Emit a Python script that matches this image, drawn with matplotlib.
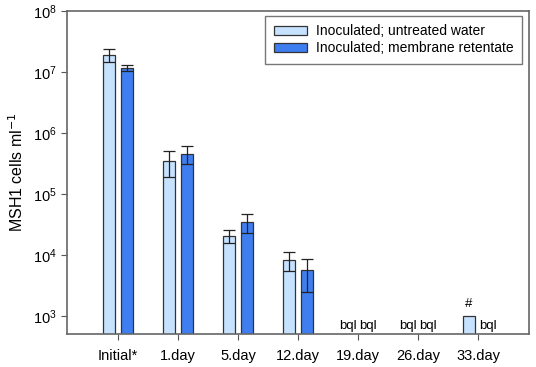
import matplotlib
matplotlib.use("Agg")
import matplotlib.pyplot as plt
import matplotlib.transforms as mtransforms
import numpy as np

plt.rcParams['font.family'] = ['Liberation Sans', 'DejaVu Sans']

categories = ["Initial*", "1.day", "5.day", "12.day", "19.day", "26.day", "33.day"]
untreated = [1.9e7, 3.5e5, 2.05e4, 8.3e3, np.nan, np.nan, 1.01e3]
untreated_err = [0.45e7, 1.6e5, 5.0e3, 2.9e3, np.nan, np.nan, np.nan]
retentate = [1.17e7, 4.6e5, 3.5e4, 5.6e3, np.nan, np.nan, np.nan]
retentate_err = [0.12e7, 1.5e5, 1.2e4, 3.1e3, np.nan, np.nan, np.nan]
series_labels = ["Inoculated; untreated water", "Inoculated; membrane retentate"]
bql_untreated = [False, False, False, False, True, True, False]
bql_retentate = [False, False, False, False, True, True, True]
marker_hash = [False, False, False, False, False, False, True]

light = "#c6e2ff"
dark = "#3f7ef0"
edge = "#333333"

fig = plt.figure(figsize=(5.36, 3.67), dpi=100)
ax = fig.add_axes([67/536, 1 - 334/367, (529-67)/536, (334-11)/367])

x = np.arange(len(categories))
w = 0.19
off = 0.15
ekw = dict(ecolor="#222222", elinewidth=0.9, capsize=4, capthick=0.9)
ax.bar(x - off, untreated, w, color=light, edgecolor=edge, linewidth=0.9,
       yerr=untreated_err, error_kw=ekw, label=series_labels[0], zorder=2)
ax.bar(x + off, retentate, w, color=dark, edgecolor=edge, linewidth=0.9,
       yerr=retentate_err, error_kw=ekw, label=series_labels[1], zorder=2)

ax.set_yscale("log")
ax.set_ylim(507, 1e8)
ax.set_xlim(-0.85, len(categories) - 0.15)
ax.set_yticks([1e3, 1e4, 1e5, 1e6, 1e7, 1e8])
ax.yaxis.set_minor_locator(matplotlib.ticker.NullLocator())
ax.set_xticks(x)
ax.set_xticklabels(categories, fontsize=10.5)
ax.tick_params(axis="y", labelsize=10.5, direction="out", length=4, color="#555555")
ax.tick_params(axis="x", direction="out", length=4, color="#555555", pad=7)
for s in ax.spines.values():
    s.set_color("#666666")
    s.set_linewidth(1.2)
ax.set_ylabel("MSH1 cells ml$^{-1}$", fontsize=11.5, labelpad=5)

trans = mtransforms.blended_transform_factory(ax.transData, ax.transAxes)
for i in range(len(categories)):
    if bql_untreated[i]:
        ax.text(x[i] - off - 0.02, 0.024, "bql", transform=trans, ha="center", va="center", fontsize=9.5)
    if bql_retentate[i]:
        ax.text(x[i] + off + 0.02, 0.024, "bql", transform=trans, ha="center", va="center", fontsize=9.5)
    if marker_hash[i]:
        ax.annotate("#", (x[i] - off, untreated[i]), xytext=(0, 4), textcoords="offset points",
                    ha="center", va="bottom", fontsize=9.5)

leg = ax.legend(loc="upper right", fontsize=10, frameon=True, fancybox=False,
                edgecolor="#555555", handlelength=2.4, handleheight=0.6,
                borderpad=0.6, labelspacing=0.22, handletextpad=0.65,
                borderaxespad=0, bbox_to_anchor=(0.985, 0.985))
leg.get_frame().set_linewidth(1.0)

fig.savefig("out.png", dpi=100)
